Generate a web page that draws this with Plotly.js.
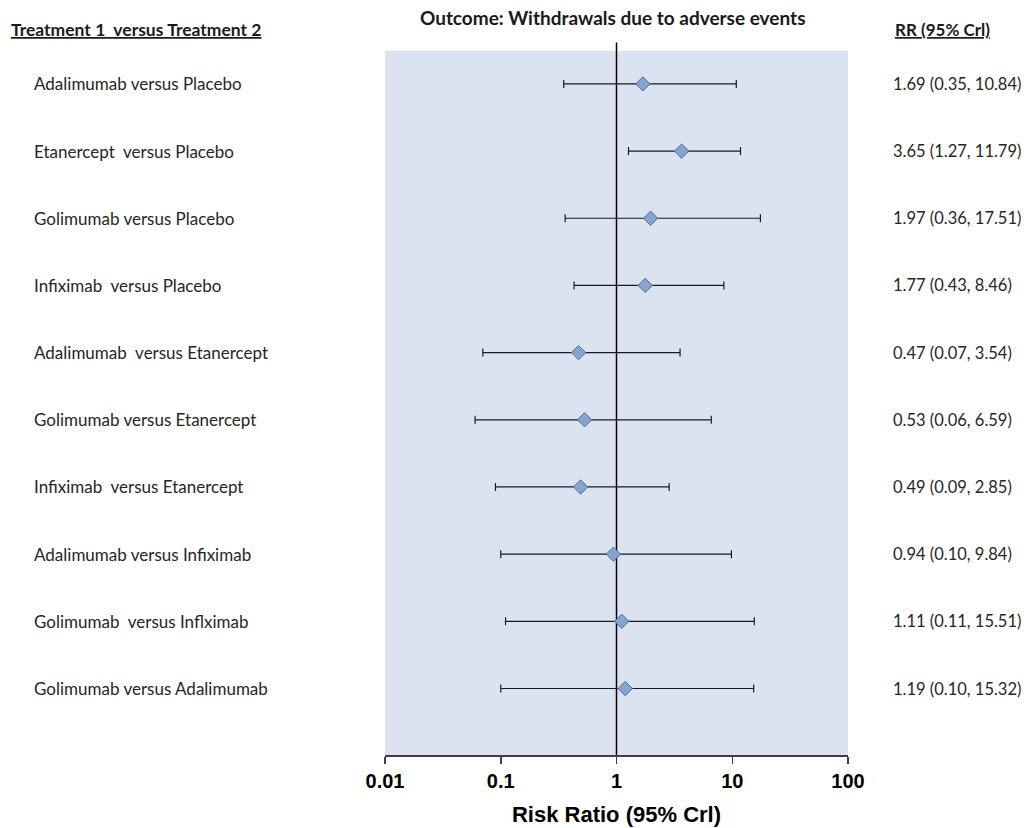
<!DOCTYPE html>
<html>
<head>
<meta charset="utf-8">
<script src="https://cdn.plot.ly/plotly-3.0.1.min.js"></script>
<style>html,body{margin:0;padding:0;background:#fff;}#chart{width:1035px;height:828px;}</style>
</head>
<body>
<div id="chart"></div>
<script>
const comparisons = [
  "Adalimumab versus Placebo",
  "Etanercept  versus Placebo",
  "Golimumab versus Placebo",
  "Infiximab  versus Placebo",
  "Adalimumab  versus Etanercept",
  "Golimumab versus Etanercept",
  "Infiximab  versus Etanercept",
  "Adalimumab versus Infiximab",
  "Golimumab  versus Inflximab",
  "Golimumab versus Adalimumab"
];
const rr    = [1.69, 3.65, 1.97, 1.77, 0.47, 0.53, 0.49, 0.94, 1.11, 1.19];
const lower = [0.35, 1.27, 0.36, 0.43, 0.07, 0.06, 0.09, 0.10, 0.11, 0.10];
const upper = [10.84, 11.79, 17.51, 8.46, 3.54, 6.59, 2.85, 9.84, 15.51, 15.32];
const rrLabels = [
  "1.69 (0.35, 10.84)",
  "3.65 (1.27, 11.79)",
  "1.97 (0.36, 17.51)",
  "1.77 (0.43, 8.46)",
  "0.47 (0.07, 3.54)",
  "0.53 (0.06, 6.59)",
  "0.49 (0.09, 2.85)",
  "0.94 (0.10, 9.84)",
  "1.11 (0.11, 15.51)",
  "1.19 (0.10, 15.32)"
];
const tickVals = [0.01, 0.1, 1, 10, 100];
const tickText = ["0.01", "0.1", "1", "10", "100"];

const rows = comparisons.map((_, i) => i);

const trace = {
  type: "scatter",
  mode: "markers",
  x: rr,
  y: rows,
  marker: {symbol: "diamond", size: 11, color: "#87a4cf", line: {color: "#4d6c9c", width: 1}},
  error_x: {
    type: "data",
    symmetric: false,
    array: upper.map((u, i) => u - rr[i]),
    arrayminus: lower.map((l, i) => rr[i] - l),
    color: "#1a1a1a",
    thickness: 1.2,
    width: 4
  },
  hoverinfo: "skip",
  showlegend: false
};

const calibri = "Lato, 'Open Sans', sans-serif";
const annotations = [];
comparisons.forEach((c, i) => {
  annotations.push({
    xref: "paper", yref: "y", x: -0.762, y: i, xanchor: "left", yanchor: "middle",
    text: c, showarrow: false, font: {family: calibri, size: 17, color: "#262626"}
  });
  annotations.push({
    xref: "paper", yref: "y", x: 1.093, y: i, xanchor: "left", yanchor: "middle",
    text: rrLabels[i], showarrow: false, font: {family: calibri, size: 16.5, color: "#262626"}
  });
});
annotations.push({
  xref: "paper", yref: "paper", x: -0.812, y: 1.03, xanchor: "left", yanchor: "middle",
  text: "<b><u>Treatment 1  versus Treatment 2</u></b>", showarrow: false,
  font: {family: calibri, size: 17.5, color: "#1a1a1a"}
});
annotations.push({
  xref: "paper", yref: "paper", x: 1.098, y: 1.03, xanchor: "left", yanchor: "middle",
  text: "<b><u>RR (95% Crl)</u></b>", showarrow: false,
  font: {family: calibri, size: 17, color: "#1a1a1a"}
});

const layout = {
  width: 1035, height: 828,
  margin: {l: 385, r: 187, t: 51, b: 73},
  paper_bgcolor: "#ffffff",
  plot_bgcolor: "#dce3f0",
  title: {
    text: "<b>Outcome: Withdrawals due to adverse events</b>",
    x: 0.592, xref: "container", xanchor: "center",
    y: 0.978, yref: "container", yanchor: "middle",
    font: {family: calibri, size: 19, color: "#1a1a1a"}
  },
  xaxis: {
    type: "log",
    range: [-2, 2],
    tickvals: tickVals,
    ticktext: tickText,
    ticks: "outside",
    ticklen: 7,
    tickwidth: 1.5,
    tickcolor: "#404040",
    showgrid: false,
    zeroline: false,
    showline: true,
    linecolor: "#404040",
    linewidth: 1.5,
    tickfont: {family: "Arial, 'Liberation Sans', sans-serif", size: 20, color: "#000", weight: "bold"},
    title: {text: "<b>Risk Ratio (95% Crl)</b>", standoff: 16,
      font: {family: "Arial, 'Liberation Sans', sans-serif", size: 22, color: "#000"}},
    fixedrange: true
  },
  yaxis: {
    range: [9.99, -0.49],
    showticklabels: false,
    showgrid: false,
    zeroline: false,
    showline: false,
    ticks: "",
    fixedrange: true
  },
  shapes: [{
    type: "line", xref: "x", yref: "paper", x0: 1, x1: 1, y0: 0, y1: 1.012,
    line: {color: "#000", width: 1.5}, layer: "below"
  }],
  annotations: annotations
};

Plotly.newPlot("chart", [trace], layout, {displayModeBar: false, staticPlot: true});
</script>
</body>
</html>
